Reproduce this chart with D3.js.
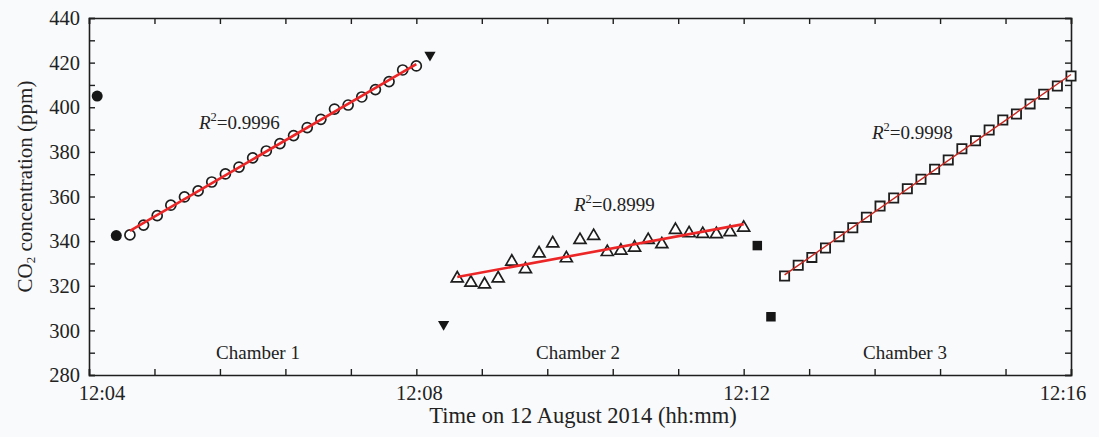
<!DOCTYPE html>
<html>
<head>
<meta charset="utf-8">
<script src="https://cdn.jsdelivr.net/npm/d3@7"></script>
<style>
  body { margin: 0; background: #f9fafc; }
  svg text { font-family: "Liberation Serif", "Times New Roman", serif; fill: #222; }
</style>
</head>
<body>
<svg id="chart" width="1099" height="437"></svg>
<script>
// sampling times, clock minutes:seconds after 12:00
const ch1Times = ["4:30","4:40","4:50","5:00","5:10","5:20","5:30","5:40","5:50","6:00","6:10",
  "6:20","6:30","6:40","6:50","7:00","7:10","7:20","7:30","7:40","7:50","8:00"];
const ch1Values = [342.8,347.2,351.4,356.1,359.8,362.5,366.5,370.1,373.2,377.3,380.4,
  383.7,387.3,390.9,394.6,399.2,401.0,404.6,407.9,411.5,416.7,418.5];

const ch2Times = ["8:30","8:40","8:50","9:00","9:10","9:20","9:30","9:40","9:50","10:00","10:10",
  "10:20","10:30","10:40","10:50","11:00","11:10","11:20","11:30","11:40","11:50","12:00"];
const ch2Values = [323.3,321.4,320.6,323.3,330.8,327.4,334.5,339.0,332.3,340.5,342.3,
  335.1,335.7,337.1,340.5,338.6,345.0,343.5,343.2,343.1,344.0,346.0];

const ch3Times = ["12:30","12:40","12:50","13:00","13:10","13:20","13:30","13:40","13:50","14:00","14:10",
  "14:20","14:30","14:40","14:50","15:00","15:10","15:20","15:30","15:40","15:50","16:00"];
const ch3Values = [324.4,329.2,332.7,336.9,342.0,346.0,350.7,355.7,359.3,363.5,367.7,
  372.2,376.4,381.4,385.0,389.8,394.3,397.0,401.5,405.8,409.5,414.0];

// purge / transition readings
const flushCircleTimes = ["4:06","4:20"];
const flushCircleValues = [405.0, 342.5];
const flushTriTimes = ["8:10","8:20"];
const flushTriValues = [423.4, 302.7];
const flushSqTimes = ["12:10","12:20"];
const flushSqValues = [338.0, 306.1];

const r2Labels = ["0.9996", "0.8999", "0.9998"];
const chamberNames = ["Chamber 1", "Chamber 2", "Chamber 3"];
const xTickLabels = ["12:04", "12:08", "12:12", "12:16"];

const toMin = s => { const p = s.split(":"); return +p[0] + (+p[1]) / 60; };
const pts = (ts, vs) => ts.map((t, i) => ({t: toMin(t), v: vs[i]}));

const svg = d3.select("#chart");
const W = +svg.attr("width"), H = +svg.attr("height");
const m = {left: 89, right: W - 1071, top: 18, bottom: H - 375};
const iw = W - m.left - m.right, ih = H - m.top - m.bottom;

svg.append("rect").attr("width", W).attr("height", H).attr("fill", "#f9fafc");

const x = d3.scaleLinear().domain([4, 16]).range([m.left, m.left + iw]);
const y = d3.scaleLinear().domain([280, 440]).range([m.top + ih, m.top]);

const g = svg.append("g");
const ink = "#1e1e1e";

// axes with inward ticks on all four sides
const xTicks = d3.range(0, 16).map(i => 4 + i * 0.8);
const yTicks = d3.range(280, 441, 10);

const axBottom = g.append("g").attr("transform", `translate(0,${m.top + ih})`)
  .call(d3.axisBottom(x).tickValues(xTicks).tickSize(-6).tickFormat(""));
const axTop = g.append("g").attr("transform", `translate(0,${m.top})`)
  .call(d3.axisTop(x).tickValues(xTicks).tickSize(-6).tickFormat(""));
const axLeft = g.append("g").attr("transform", `translate(${m.left},0)`)
  .call(d3.axisLeft(y).tickValues(yTicks).tickSize(-6).tickFormat(""));
const axRight = g.append("g").attr("transform", `translate(${m.left + iw},0)`)
  .call(d3.axisRight(y).tickValues(yTicks).tickSize(-6).tickFormat(""));

[axBottom, axTop, axLeft, axRight].forEach(a => {
  a.select(".domain").attr("stroke", ink).attr("stroke-width", 1.6);
  a.selectAll(".tick line").attr("stroke", ink).attr("stroke-width", 1.4);
});

// tick labels
const xLabVals = [4, 8, 12, 16];
g.selectAll(".xlab").data(xLabVals).enter().append("text")
  .attr("x", (d, i) => x(d) + (i === 0 ? 13 : i === 3 ? -8 : 3))
  .attr("y", m.top + ih + 25)
  .attr("text-anchor", "middle")
  .attr("font-size", 20.5)
  .text((d, i) => xTickLabels[i]);

g.selectAll(".ylab").data(d3.range(280, 441, 20)).enter().append("text")
  .attr("x", m.left - 9)
  .attr("y", d => y(d))
  .attr("dy", "0.35em")
  .attr("text-anchor", "end")
  .attr("font-size", 20.5)
  .text(d => d);

// axis titles
svg.append("text")
  .attr("x", 583).attr("y", 423)
  .attr("text-anchor", "middle").attr("font-size", 22.5)
  .text("Time on 12 August 2014 (hh:mm)");

const yt = svg.append("text")
  .attr("transform", `translate(32,${(m.top + m.top + ih) / 2 - 10}) rotate(-90)`)
  .attr("text-anchor", "middle").attr("font-size", 21);
yt.append("tspan").text("CO");
yt.append("tspan").attr("font-size", 13).attr("dy", 3).text("2");
yt.append("tspan").attr("dy", -3).text(" concentration (ppm)");

// regression helper
function fit(data) {
  const mt = d3.mean(data, d => d.t), mv = d3.mean(data, d => d.v);
  const b = d3.sum(data, d => (d.t - mt) * (d.v - mv)) / d3.sum(data, d => (d.t - mt) ** 2);
  const a = mv - b * mt;
  const ext = d3.extent(data, d => d.t);
  return ext.map(t => ({t: t, v: a + b * t}));
}
const line = d3.line().x(d => x(d.t)).y(d => y(d.v));

const d1 = pts(ch1Times, ch1Values);
const d2 = pts(ch2Times, ch2Values);
const d3s = pts(ch3Times, ch3Values);

// chamber 1: open circles
g.selectAll(".c1").data(d1).enter().append("circle")
  .attr("cx", d => x(d.t)).attr("cy", d => y(d.v)).attr("r", 5)
  .attr("fill", "#fff").attr("stroke", ink).attr("stroke-width", 1.7);

// chamber 2: open triangles
const triUp = d3.symbol().type(d3.symbolTriangle).size(62);
g.selectAll(".c2").data(d2).enter().append("path")
  .attr("d", triUp)
  .attr("transform", d => `translate(${x(d.t)},${y(d.v)})`)
  .attr("fill", "#fff").attr("stroke", ink).attr("stroke-width", 1.7);

// chamber 3: open squares
const sq = d3.symbol().type(d3.symbolSquare).size(85);
g.selectAll(".c3").data(d3s).enter().append("path")
  .attr("d", sq)
  .attr("transform", d => `translate(${x(d.t)},${y(d.v)})`)
  .attr("fill", "#fff").attr("stroke", ink).attr("stroke-width", 1.8);

// fitted lines
g.append("path").datum(fit(d1)).attr("d", line)
  .attr("stroke", "#ec2626").attr("stroke-width", 2.6).attr("fill", "none");
g.append("path").datum(fit(d2)).attr("d", line)
  .attr("stroke", "#ec2626").attr("stroke-width", 2.6).attr("fill", "none");
g.append("path").datum(fit(d3s)).attr("d", line)
  .attr("stroke", "#c8261e").attr("stroke-width", 1.4).attr("fill", "none");

// flush / transition points
g.selectAll(".fc").data(pts(flushCircleTimes, flushCircleValues)).enter().append("circle")
  .attr("cx", d => x(d.t)).attr("cy", d => y(d.v)).attr("r", 5.5).attr("fill", "#161616");

const triDown = d3.symbol().type(d3.symbolTriangle).size(55);
g.selectAll(".ft").data(pts(flushTriTimes, flushTriValues)).enter().append("path")
  .attr("d", triDown)
  .attr("transform", d => `translate(${x(d.t)},${y(d.v)}) rotate(180)`)
  .attr("fill", "#161616");

const sqFill = d3.symbol().type(d3.symbolSquare).size(90);
g.selectAll(".fs").data(pts(flushSqTimes, flushSqValues)).enter().append("path")
  .attr("d", sqFill)
  .attr("transform", d => `translate(${x(d.t)},${y(d.v)})`)
  .attr("fill", "#161616");

// R² annotations
const r2Pos = [[199, 129], [574, 211], [872, 139]];
r2Pos.forEach((p, i) => {
  const t = svg.append("text").attr("x", p[0]).attr("y", p[1]).attr("font-size", 19);
  t.append("tspan").attr("font-style", "italic").text("R");
  t.append("tspan").attr("font-size", 12.5).attr("dy", -8).text("2");
  t.append("tspan").attr("dy", 8).text("=" + r2Labels[i]);
});

// chamber labels
const chamberX = [258, 578, 905];
chamberNames.forEach((n, i) => {
  svg.append("text").attr("x", chamberX[i]).attr("y", 359)
    .attr("text-anchor", "middle").attr("font-size", 19).text(n);
});
</script>
</body>
</html>
